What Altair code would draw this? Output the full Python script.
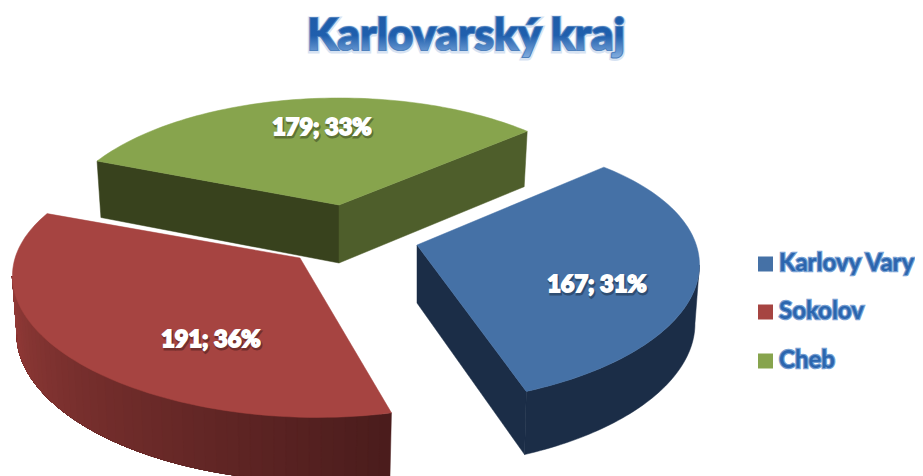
import math
import altair as alt
import pandas as pd

# --- data ---
TITLE = "Karlovarský kraj"
NAMES = ["Karlovy Vary", "Sokolov", "Cheb"]
VALUES = [167, 191, 179]

# --- styling / projection parameters ---
TOP = ["#4571a6", "#a64441", "#87a44d"]
START = 50.0
B, K = 128.0, 0.196
SLICE_A = [277.0, 282.0, 279.0]
SHEAR = [-0.022, 0.028, 0.0]
APEX = [(417, 245), (300, 258), (339, 205)]
ANGLE_ADJ = [(-0.5, -0.7), (2.8, -2.0), (1.6, -0.5)]
LABEL_POS = [(597, 285), (211, 340), (322, 128)]
LEGEND_Y = [264, 312, 361]
W, H = 907, 468
OX, OY = 8, 8
TOTAL = sum(VALUES)


def proj(t, k):
    r = math.radians(t)
    d = 1 + K * math.cos(r)
    dx = SLICE_A[k] * math.sin(r) / d
    return APEX[k][0] + dx, APEX[k][1] - B * math.cos(r) / d + SHEAR[k] * dx


def drop(p, k):
    dx, dy = p[0] - APEX[k][0], p[1] - APEX[k][1]
    return APEX[k][0] + dx * 0.984, p[1] + 58 + 0.035 * dy


def mix(c1, c2, f):
    a = [int(c1[i:i + 2], 16) for i in (1, 3, 5)]
    b = [int(c2[i:i + 2], 16) for i in (1, 3, 5)]
    return "#%02x%02x%02x" % tuple(round(u + (v - u) * f) for u, v in zip(a, b))


rows = []
pid = 0


def poly(points, fill):
    global pid
    pid += 1
    for i, (x, y) in enumerate(points):
        rows.append({"id": f"p{pid:04d}", "i": i, "x": x, "y": y, "fill": fill})


def face(t, k, fill):
    p = proj(t, k)
    poly([APEX[k], p, drop(p, k), drop(APEX[k], k)], fill)


def rim(k, t0, t1, c0, c1, n):
    # each band runs to the far end of the rim, so later bands paint over earlier ones without seams
    for j in range(n):
        a = t0 + (t1 - t0) * j / n
        m = 60
        arc = [proj(a + (t1 - a) * s / m, k) for s in range(m + 1)]
        poly(arc + [drop(p, k) for p in reversed(arc)], mix(c0, c1, (j + 0.5) / n))


spans = []
cursor = START
for v, adj in zip(VALUES, ANGLE_ADJ):
    sweep = v / TOTAL * 360
    spans.append((cursor + adj[0], cursor + sweep + adj[1]))
    cursor += sweep
limit_r = math.degrees(math.acos(-K))

# Cheb
face(spans[2][0], 2, "#38421d")
face(spans[2][1], 2, "#4e5e2b")
# Sokolov
rim(1, spans[1][0], 360 - limit_r, "#4a1c1c", "#943b38", 48)
# Karlovy Vary
face(spans[0][1], 0, "#1b2d47")
rim(0, limit_r, spans[0][1], "#1b2d47", "#1b2d47", 1)

for k, (t, col) in enumerate(zip(spans, TOP)):
    arc = [proj(t[0] + (t[1] - t[0]) * j / 80, k) for j in range(81)]
    poly([APEX[k]] + arc, col)

df = pd.DataFrame(rows)
SX = alt.Scale(domain=[OX, OX + W], range=[0, W], nice=False, zero=False)
SY = alt.Scale(domain=[OY, OY + H], range=[0, H], nice=False, zero=False)
X = alt.X("x:Q", axis=None, scale=SX)
Y = alt.Y("y:Q", axis=None, scale=SY)

shapes = alt.Chart(df).mark_line(interpolate="linear-closed", filled=True, strokeWidth=0.5).encode(
    x=X, y=Y,
    detail="id:N",
    order="i:Q",
    fill=alt.Fill("fill:N", scale=None),
    stroke=alt.Stroke("fill:N", scale=None),
)

labels = pd.DataFrame({
    "x": [p[0] for p in LABEL_POS],
    "y": [p[1] for p in LABEL_POS],
    "t": [f"{v}; {round(v / TOTAL * 100)}%" for v in VALUES],
})
lab_kw = dict(font="Lato", fontSize=23.5, fontWeight=900, align="center", baseline="middle")
lab_shadow = alt.Chart(labels).mark_text(color="#000000", stroke="#000000", strokeWidth=3,
                                         opacity=0.3, dx=1, dy=2, **lab_kw).encode(x=X, y=Y, text="t:N")
lab_main = alt.Chart(labels).mark_text(color="#ffffff", stroke="#ffffff", strokeWidth=1.8, **lab_kw).encode(
    x=X, y=Y, text="t:N")

legend = pd.DataFrame({"x": [765.5] * 3, "tx": [779] * 3, "y": LEGEND_Y, "name": NAMES, "fill": TOP})
squares = alt.Chart(legend).mark_square(size=225, opacity=1, filled=True).encode(
    x=X, y=Y, fill=alt.Fill("fill:N", scale=None))
TX = alt.X("tx:Q", axis=None, scale=SX)
leg_kw = dict(font="Lato", fontSize=24, fontWeight=700, align="left", baseline="middle")
leg_glow = alt.Chart(legend).mark_text(color="#5f90cc", stroke="#5f90cc", strokeWidth=2.4,
                                       opacity=0.85, **leg_kw).encode(x=TX, y=Y, text="name:N")
leg_main = alt.Chart(legend).mark_text(color="#2c66ae", **leg_kw).encode(x=TX, y=Y, text="name:N")

head = pd.DataFrame({"x": [466], "y": [37], "t": [TITLE]})
grad = alt.LinearGradient(gradient="linear", x1=0, y1=0, x2=0, y2=1,
                          stops=[alt.GradientStop(color="#1d5aa6", offset=0),
                                 alt.GradientStop(color="#1f5fad", offset=0.55),
                                 alt.GradientStop(color="#7ea9dc", offset=0.95),
                                 alt.GradientStop(color="#5f90cc", offset=1)])
t_kw = dict(font="Lato", fontSize=44, fontWeight=900, align="center", baseline="middle")
t_glow = alt.Chart(head).mark_text(color="#8fb1dc", stroke="#8fb1dc", strokeWidth=5, opacity=0.35, dy=1, **t_kw).encode(
    x=X, y=Y, text="t:N")
t_edge = alt.Chart(head).mark_text(color="#4f81bd", stroke="#4f81bd", strokeWidth=2.2, **t_kw).encode(
    x=X, y=Y, text="t:N")
t_main = alt.Chart(head).mark_text(color=grad, **t_kw).encode(x=X, y=Y, text="t:N")

chart = alt.layer(shapes, lab_shadow, lab_main, squares, leg_glow, leg_main, t_glow, t_edge, t_main).properties(
    width=W, height=H, background="#ffffff", padding=0,
    autosize=alt.AutoSizeParams(type="none"),
).configure_view(stroke=None)

chart.save("out.html", embed_options={"renderer": "svg", "actions": False})
